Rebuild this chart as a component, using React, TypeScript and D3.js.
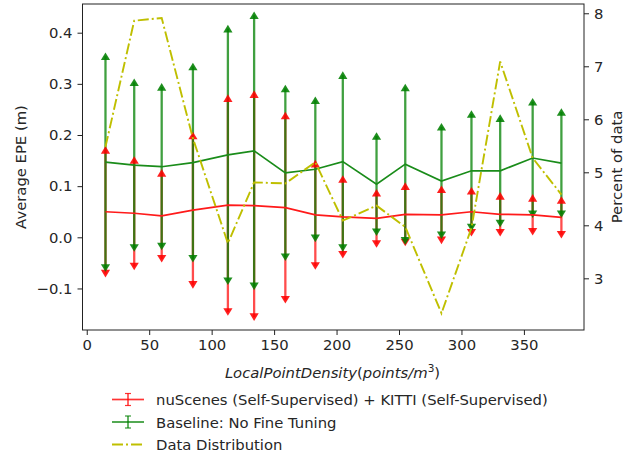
import React, { useEffect, useRef } from 'react';
import * as d3 from 'd3';

// local point density (points / m^3) for each bin
const densities = [15, 38, 60, 85, 113, 134, 159, 183, 205, 232, 255, 284, 308, 331, 357, 380];

// nuScenes (self-sup) + KITTI (self-sup)
const fineTunedMean = [0.050, 0.047, 0.042, 0.053, 0.063, 0.062, 0.058, 0.044, 0.040, 0.037, 0.045, 0.044, 0.050, 0.045, 0.044, 0.039];
const fineTunedErr = [0.121, 0.104, 0.084, 0.146, 0.209, 0.218, 0.180, 0.100, 0.074, 0.050, 0.055, 0.050, 0.041, 0.036, 0.033, 0.034];

// baseline, no fine tuning
const baselineMean = [0.147, 0.141, 0.138, 0.146, 0.161, 0.169, 0.126, 0.133, 0.148, 0.104, 0.143, 0.110, 0.130, 0.130, 0.155, 0.145];
const baselineErr = [0.207, 0.162, 0.156, 0.188, 0.247, 0.265, 0.165, 0.135, 0.169, 0.094, 0.150, 0.106, 0.111, 0.103, 0.110, 0.100];

// percent of data in each bin (right axis)
const dataPercent = [5.48, 7.86, 7.91, 5.64, 3.66, 4.81, 4.79, 5.19, 4.09, 4.37, 3.97, 2.34, 3.95, 7.09, 5.27, 4.58];

const xTicks = [0, 50, 100, 150, 200, 250, 300, 350];
const yTicks = [-0.1, 0, 0.1, 0.2, 0.3, 0.4];
const y2Ticks = [3, 4, 5, 6, 7, 8];

const legendLabels = [
  'nuScenes (Self-Supervised) + KITTI (Self-Supervised)',
  'Baseline: No Fine Tuning',
  'Data Distribution'
];

const FONT = 'DejaVu Sans, sans-serif';
const FS = '14.8px';

const App = () => {
  const svgRef = useRef<SVGSVGElement | null>(null);

  useEffect(() => {
    if (!svgRef.current) return;
    const root = d3.select(svgRef.current);
    root.selectAll('*').remove();

    const margin = { top: 4, left: 82.5 };
    const width = 501.5;
    const height = 326;

    const svg = root.append('g')
      .attr('transform', `translate(${margin.left},${margin.top})`);

    const xScale = d3.scaleLinear().domain([-3.4, 398.1]).range([0, width]);
    const yScale = d3.scaleLinear().domain([-0.1812, 0.4561]).range([height, 0]);
    const y2Scale = d3.scaleLinear().domain([2.025, 8.175]).range([height, 0]);

    const series = [
      { mean: fineTunedMean, err: fineTunedErr, color: '#ff0000', barOpacity: 0.7, lineColor: '#ff1a1a' },
      { mean: baselineMean, err: baselineErr, color: '#008000', barOpacity: 0.75, lineColor: '#1a8c1a' }
    ];

    // error bars
    series.forEach(s => {
      svg.append('g')
        .selectAll('line')
        .data(densities)
        .enter()
        .append('line')
        .attr('x1', d => xScale(d))
        .attr('x2', d => xScale(d))
        .attr('y1', (_, i) => yScale(s.mean[i] + s.err[i]))
        .attr('y2', (_, i) => yScale(s.mean[i] - s.err[i]))
        .attr('stroke', s.color)
        .attr('stroke-opacity', s.barOpacity)
        .attr('stroke-width', 2.3);
    });

    // arrow heads (limits)
    const tri = (cx: number, cy: number, up: boolean) => {
      const h = 3.8;
      const w = 4.6;
      return up
        ? `M${cx},${cy - h}L${cx + w},${cy + h}L${cx - w},${cy + h}Z`
        : `M${cx},${cy + h}L${cx + w},${cy - h}L${cx - w},${cy - h}Z`;
    };
    series.forEach(s => {
      const g = svg.append('g');
      densities.forEach((d, i) => {
        g.append('path')
          .attr('d', tri(xScale(d), yScale(s.mean[i] + s.err[i]), true))
          .attr('fill', s.color)
          .attr('fill-opacity', 0.88);
        g.append('path')
          .attr('d', tri(xScale(d), yScale(s.mean[i] - s.err[i]), false))
          .attr('fill', s.color)
          .attr('fill-opacity', 0.88);
      });
    });

    // mean lines
    series.forEach(s => {
      const line = d3.line<number>()
        .x(d => xScale(d))
        .y((_, i) => yScale(s.mean[i]));
      svg.append('path')
        .datum(densities)
        .attr('fill', 'none')
        .attr('stroke', s.lineColor)
        .attr('stroke-width', 1.7)
        .attr('d', line);
    });

    // data distribution on the twin axis
    const distLine = d3.line<number>()
      .x(d => xScale(d))
      .y((_, i) => y2Scale(dataPercent[i]));
    svg.append('path')
      .datum(densities)
      .attr('fill', 'none')
      .attr('stroke', '#bfbf00')
      .attr('stroke-width', 1.9)
      .attr('stroke-dasharray', '11,3,2,3')
      .attr('d', distLine);

    // frame
    svg.append('rect')
      .attr('x', 0)
      .attr('y', 0)
      .attr('width', width)
      .attr('height', height)
      .attr('fill', 'none')
      .attr('stroke', '#222')
      .attr('stroke-width', 1);

    // axes
    const styleAxis = (g: any) => {
      g.select('.domain').remove();
      g.selectAll('.tick line').attr('stroke', '#222').attr('stroke-width', 1);
      g.selectAll('.tick text')
        .attr('fill', '#262626')
        .attr('font-size', FS)
        .attr('font-family', FONT);
    };

    svg.append('g')
      .attr('transform', `translate(0,${height})`)
      .call(d3.axisBottom(xScale).tickValues(xTicks).tickSize(5).tickPadding(4).tickFormat(d3.format('d')))
      .call(styleAxis);

    svg.append('g')
      .call(d3.axisLeft(yScale).tickValues(yTicks).tickSize(5).tickPadding(5)
        .tickFormat(d => d3.format('.1f')(d as number).replace('-', '\u2212')))
      .call(styleAxis);

    svg.append('g')
      .attr('transform', `translate(${width},0)`)
      .call(d3.axisRight(y2Scale).tickValues(y2Ticks).tickSize(5).tickPadding(5).tickFormat(d3.format('d')))
      .call(styleAxis);

    // axis labels
    svg.append('text')
      .attr('transform', 'rotate(-90)')
      .attr('x', -height / 2)
      .attr('y', -57)
      .attr('text-anchor', 'middle')
      .attr('fill', '#262626')
      .attr('font-size', FS)
      .attr('font-family', FONT)
      .text('Average EPE (m)');

    svg.append('text')
      .attr('transform', 'rotate(-90)')
      .attr('x', -height / 2)
      .attr('y', width + 38)
      .attr('text-anchor', 'middle')
      .attr('fill', '#262626')
      .attr('font-size', FS)
      .attr('font-family', FONT)
      .text('Percent of data');

    const xl = svg.append('text')
      .attr('x', 332.5 - margin.left)
      .attr('y', height + 48)
      .attr('text-anchor', 'middle')
      .attr('fill', '#262626')
      .attr('font-size', FS)
      .attr('font-family', FONT);
    xl.append('tspan').attr('font-style', 'italic').text('LocalPointDensity');
    xl.append('tspan').text('(');
    xl.append('tspan').attr('font-style', 'italic').text('points/m');
    xl.append('tspan').attr('font-size', '10.5px').attr('dy', -6).text('3');
    xl.append('tspan').attr('dy', 6).text(')');

    // legend
    const legend = root.append('g').attr('transform', 'translate(112,399.5)');
    const legendColors = ['#ff0000', '#008000', '#bfbf00'];
    legendLabels.forEach((label, i) => {
      const row = legend.append('g').attr('transform', `translate(0,${i * 22.5})`);
      if (i < 2) {
        row.append('line')
          .attr('x1', 0).attr('x2', 32).attr('y1', 0).attr('y2', 0)
          .attr('stroke', legendColors[i]).attr('stroke-opacity', 0.8).attr('stroke-width', 1.7);
        row.append('line')
          .attr('x1', 16).attr('x2', 16).attr('y1', -6).attr('y2', 6)
          .attr('stroke', legendColors[i]).attr('stroke-opacity', 0.8).attr('stroke-width', 1.5);
        [-6, 6].forEach(dy => {
          row.append('line')
            .attr('x1', 13).attr('x2', 19).attr('y1', dy).attr('y2', dy)
            .attr('stroke', legendColors[i]).attr('stroke-opacity', 0.8).attr('stroke-width', 1.2);
        });
      } else {
        row.append('line')
          .attr('x1', 0).attr('x2', 32).attr('y1', 0).attr('y2', 0)
          .attr('stroke', legendColors[i]).attr('stroke-width', 1.9)
          .attr('stroke-dasharray', '11,3,2,3');
      }
      row.append('text')
        .attr('x', 44)
        .attr('y', 5.5)
        .attr('fill', '#262626')
        .attr('font-size', FS)
        .attr('font-family', FONT)
        .text(label);
    });
  }, []);

  return (
    <svg
      ref={svgRef}
      width={632}
      height={457}
      style={{ position: 'absolute', left: 0, top: 0, background: '#fff' }}
    />
  );
};

export default App;
